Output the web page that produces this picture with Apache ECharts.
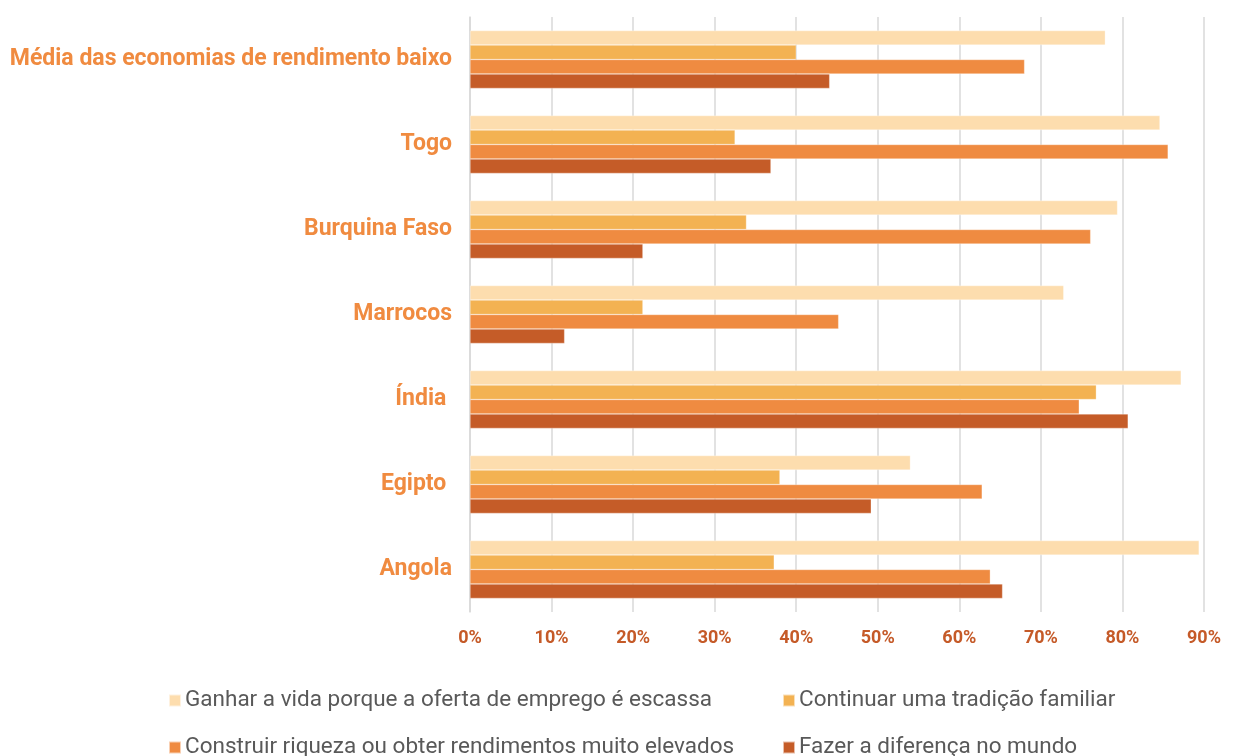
<!DOCTYPE html>
<html>
<head>
<meta charset="utf-8">
<script src="https://cdn.jsdelivr.net/npm/echarts@6/dist/echarts.min.js"></script>
<style>html,body{margin:0;padding:0;background:#fff}#c{width:1236px;height:756px}</style>
</head>
<body>
<div id="c"></div>
<script>
const categories = ["Média das economias de rendimento baixo", "Togo", "Burquina Faso", "Marrocos", "Índia ", "Egipto ", "Angola"];
const seriesNames = ["Ganhar a vida porque a oferta de emprego é escassa", "Continuar uma tradição familiar", "Construir riqueza ou obter rendimentos muito elevados", "Fazer a diferença no mundo"];
const ganhar = [77.9, 84.6, 79.4, 72.8, 87.2, 54.0, 89.4];
const continuar = [40.0, 32.5, 33.9, 21.2, 76.8, 38.0, 37.3];
const construir = [68.0, 85.6, 76.1, 45.2, 74.7, 62.8, 63.8];
const fazer = [44.1, 36.9, 21.2, 11.6, 80.7, 49.2, 65.3];
const xTicks = [0, 10, 20, 30, 40, 50, 60, 70, 80, 90];
const colors = ["#FDDDAE", "#F3B252", "#EF8B41", "#C55C28"];

const chart = echarts.init(document.getElementById('c'));
const values = [ganhar, continuar, construir, fazer];
const legendCommon = {orient: 'vertical', top: 689, height: 200, padding: 0, itemWidth: 12, itemHeight: 12, itemGap: 24, icon: 'rect',
  textStyle: {color: '#595959', fontFamily: 'Roboto', fontSize: 22.5, padding: [0, 0, 0, -1]}};
chart.setOption({
  animation: false,
  grid: {left: 470, right: 32, top: 17, bottom: 144, containLabel: false},
  xAxis: {
    type: 'value', min: xTicks[0], max: xTicks[xTicks.length - 1], interval: 10,
    axisLine: {show: false}, axisTick: {show: false},
    splitLine: {show: true, lineStyle: {color: '#D9D9D9', width: 1.5}},
    axisLabel: {formatter: '{value}%', color: '#C55A28', fontFamily: 'Roboto', fontWeight: 'bold', fontSize: 18, margin: 17}
  },
  yAxis: {
    type: 'category', data: categories, inverse: true,
    axisLine: {show: true, lineStyle: {color: '#D9D9D9', width: 1.5}},
    axisTick: {show: false},
    axisLabel: {color: '#F08B40', fontFamily: 'Roboto', fontWeight: 'bold', fontSize: 23, margin: 18, padding: [0, 0, 6, 0]}
  },
  legend: [
    Object.assign({data: [seriesNames[0], seriesNames[2]], left: 168}, legendCommon),
    Object.assign({data: [seriesNames[1], seriesNames[3]], left: 782}, legendCommon)
  ],
  series: seriesNames.map((n, i) => ({
    name: n, type: 'bar', data: values[i], barGap: '0%', barCategoryGap: '32%',
    itemStyle: {color: colors[i], borderColor: 'rgba(255,255,255,0.6)', borderWidth: 0.5}
  }))
});
</script>
</body>
</html>
